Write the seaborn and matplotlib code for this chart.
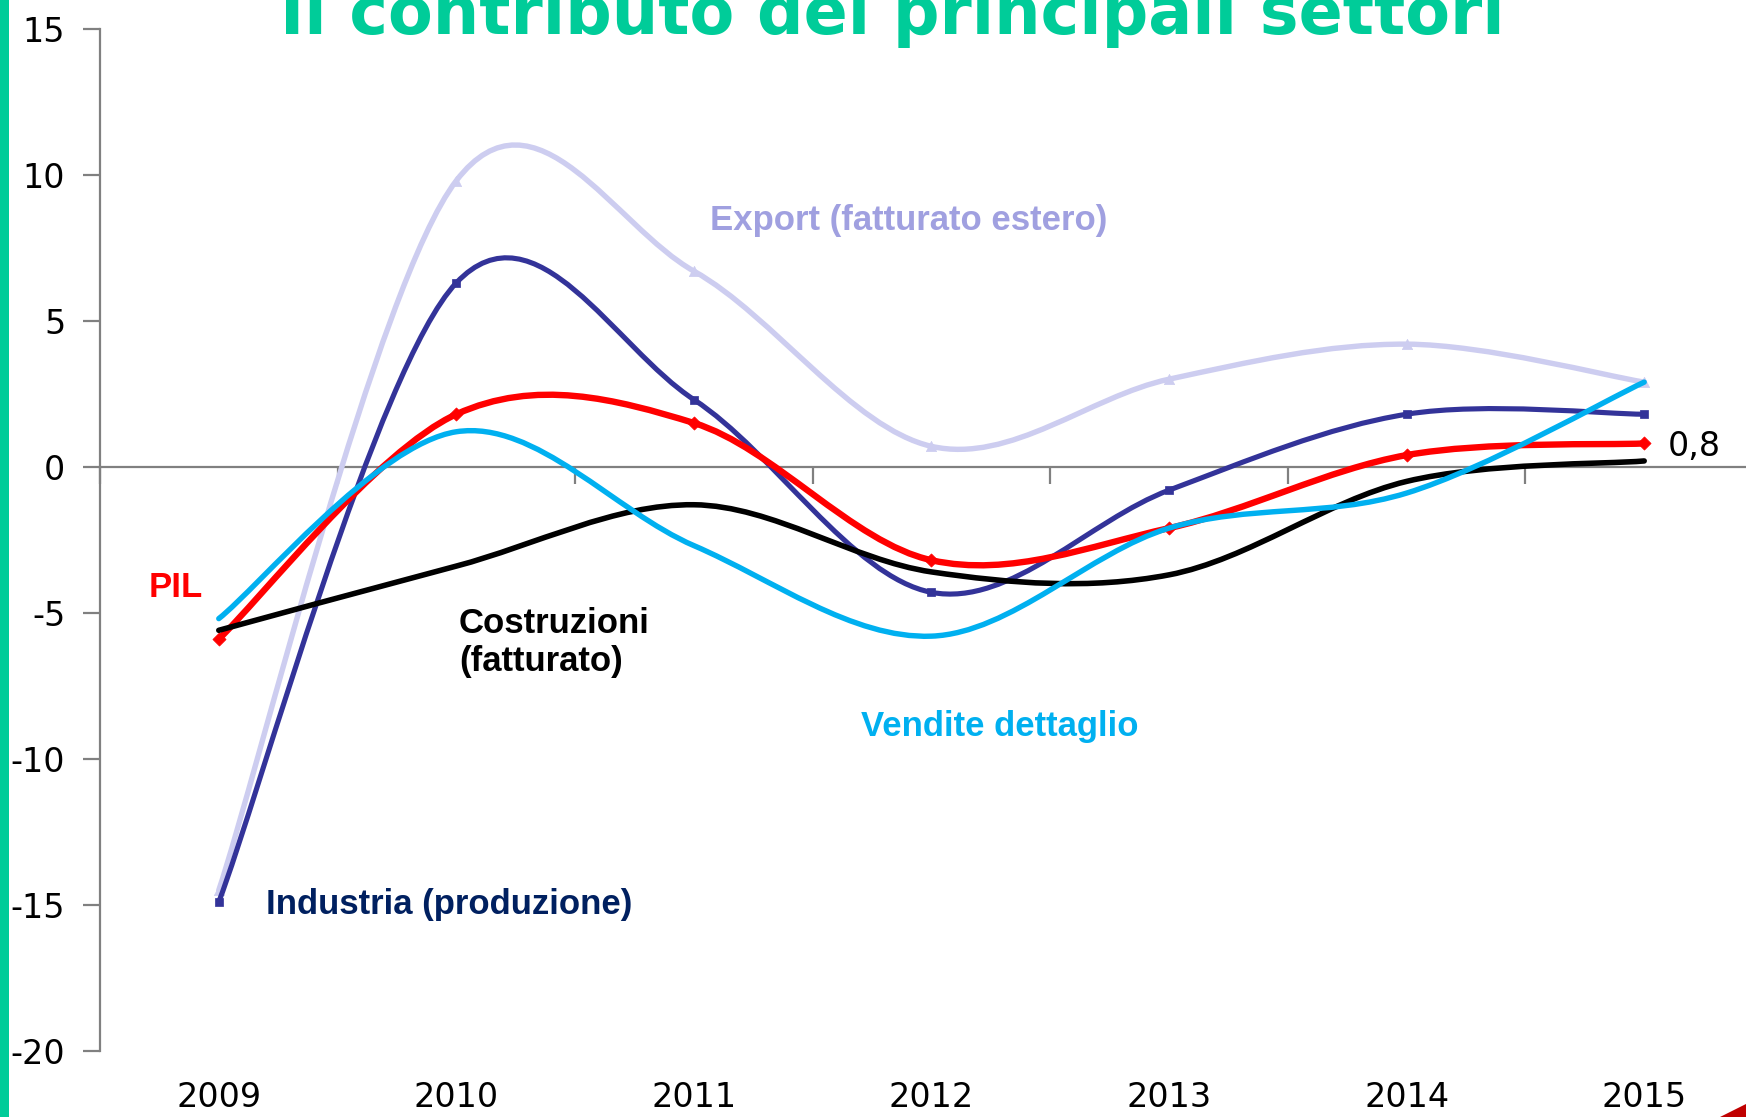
import numpy as np
import pandas as pd
import seaborn as sns
import matplotlib.pyplot as plt
from matplotlib.path import Path
from matplotlib.patches import PathPatch, Rectangle, Polygon

# Dati (variazioni % annue)
anni = ["2009", "2010", "2011", "2012", "2013", "2014", "2015"]
export = [-14.5, 9.8, 6.7, 0.7, 3.0, 4.2, 2.9]
industria = [-14.9, 6.3, 2.3, -4.3, -0.8, 1.8, 1.8]
pil = [-5.9, 1.8, 1.5, -3.2, -2.1, 0.4, 0.8]
costruzioni = [-5.6, -3.4, -1.3, -3.6, -3.7, -0.5, 0.2]
vendite = [-5.2, 1.2, -2.7, -5.8, -2.1, -0.9, 2.9]

pos = np.arange(len(anni))

sns.set_style("white")
plt.rcParams["font.family"] = ["DejaVu Sans"]
plt.rcParams["axes.unicode_minus"] = False

GREEN = "#00CC99"
GREY = "#808080"


def smooth_path(xs, ys):
    # curva smussata tipo Excel (Catmull-Rom -> Bezier cubiche)
    pts = np.column_stack([xs, ys]).astype(float)
    n = len(pts)
    verts = [pts[0]]
    codes = [Path.MOVETO]
    for i in range(n - 1):
        p0 = pts[i - 1] if i > 0 else pts[i]
        p1, p2 = pts[i], pts[i + 1]
        p3 = pts[i + 2] if i + 2 < n else pts[i + 1]
        verts += [p1 + (p2 - p0) / 6, p2 - (p3 - p1) / 6, p2]
        codes += [Path.CURVE4] * 3
    return Path(verts, codes)


# serie: (nome, valori, colore, spessore, marker, dimensione marker)
serie = [
    ("Export", export, "#CDCDF0", 3.9, "^", 55),
    ("Industria", industria, "#333399", 3.7, "s", 28),
    ("PIL", pil, "#FF0000", 4.6, "D", 45),
    ("Costruzioni", costruzioni, "#000000", 4.0, None, 0),
    ("Vendite", vendite, "#00B0F0", 3.9, None, 0),
]

df = pd.concat(
    [pd.DataFrame({"pos": pos, "anno": anni, "valore": v, "serie": nome})
     for nome, v, *_ in serie],
    ignore_index=True,
)

fig = plt.figure(figsize=(17.46, 11.17), dpi=100)
ax = fig.add_axes([0.05727, 0.05927, 0.95246, 0.91496])

for i, (nome, v, col, lw, mk, ms) in enumerate(serie):
    ax.add_patch(PathPatch(smooth_path(pos, v), facecolor="none", edgecolor=col,
                           lw=lw, capstyle="round", joinstyle="round", zorder=3 + i))
    if mk is not None:
        sns.scatterplot(data=df[df["serie"] == nome], x="pos", y="valore", ax=ax,
                        marker=mk, s=ms, color=col, edgecolor=col, linewidth=0.5,
                        zorder=3.5 + i, legend=False)

ax.set_xlim(-0.5, 6.5)
ax.set_ylim(-20, 15)
ax.set_yticks(range(-20, 16, 5))
ax.set_xticks(pos, labels=anni)
ax.set_xticks(np.arange(-0.5, 6.6, 1), minor=True)
ax.set_xlabel("")
ax.set_ylabel("")

# asse delle categorie sullo zero
ax.spines["top"].set_position(("data", 0))
ax.spines["top"].set_color(GREY)
ax.spines["top"].set_linewidth(1.6)
ax.spines["left"].set_color(GREY)
ax.spines["left"].set_linewidth(1.6)
ax.spines["right"].set_visible(False)
ax.spines["bottom"].set_visible(False)

ax.tick_params(axis="x", which="major", bottom=True, top=False, length=0, pad=22,
               labelsize=24, labelcolor="black")
ax.tick_params(axis="x", which="minor", bottom=False, top=True, direction="in",
               length=12, width=1.6, color=GREY)
ax.tick_params(axis="y", which="major", left=True, direction="out", length=12,
               width=1.6, color=GREY, pad=13, labelsize=24, labelcolor="black")

# etichette delle serie
lab = dict(fontsize=25, fontweight="bold", family=["Liberation Sans", "DejaVu Sans"],
           va="center", ha="left")
ax.text(2.067, 8.42, "Export (fatturato estero)", color="#A0A0E0", **lab)
ax.text(-0.294, -4.15, "PIL", color="#FF0000", **lab)
ax.text(1.011, -6.03, "Costruzioni\n(fatturato)", color="black", **lab)
ax.text(2.703, -8.91, "Vendite dettaglio", color="#00B0F0", **lab)
ax.text(0.199, -14.99, "Industria (produzione)", color="#002060", **lab)
ax.text(6.099, 0.69, "0,8", fontsize=24, color="black", va="center", ha="left")

# titolo (tagliato in alto come nella slide)
fig.text(0.5112, 1 - 34 / 1117, "Il contributo dei principali settori", color=GREEN,
         fontsize=47, fontweight="bold", ha="center", va="baseline")

# decorazioni della slide
fig.add_artist(Rectangle((0, 0), 8.5 / 1746, 1, transform=fig.transFigure,
                         facecolor=GREEN, edgecolor="none"))
fig.add_artist(Polygon([(1720 / 1746, 0), (1, 13 / 1117), (1, 0)], closed=True,
                       transform=fig.transFigure, facecolor="#C00000", edgecolor="none"))

fig.savefig("out.png", dpi=100)
